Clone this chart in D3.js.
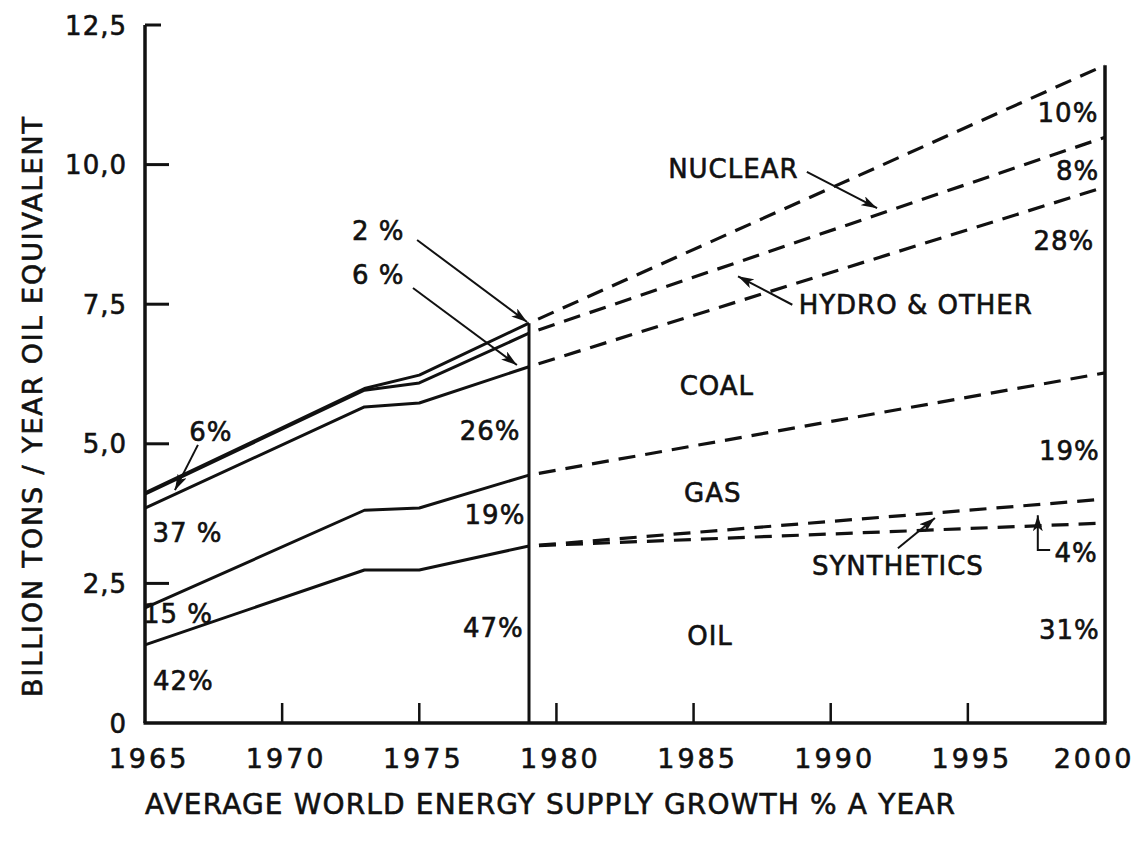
<!DOCTYPE html>
<html>
<head>
<meta charset="utf-8">
<script src="https://cdnjs.cloudflare.com/ajax/libs/d3/7.8.5/d3.min.js"></script>
<style>
  body { margin: 0; background: #fff; }
  text { font-family: "DejaVu Sans", sans-serif; fill: #111; stroke: #111; stroke-width: 0.6; }
</style>
</head>
<body>
<div id="chart"></div>
<script>
// years of the recorded part (solid) and of the projection (dashed)
var histYears = [1965, 1973, 1975, 1979];
var projYears = [1979, 2000];

// cumulative tops of each band, billion tons / year oil equivalent
var oilHist     = [1.40, 2.74, 2.74, 3.17];
var gasHist     = [2.06, 3.81, 3.85, 4.44];
var coalHist    = [3.85, 5.66, 5.73, 6.38];
var hydroHist   = [4.10, 5.96, 6.09, 6.98];
var nuclearHist = [4.12, 5.99, 6.23, 7.16];

var oilProj     = [3.17, 3.58];
var synthProj   = [3.17, 4.01];
var gasProj     = [4.44, 6.27];
var coalProj    = [6.38, 9.60];
var hydroProj   = [6.98, 10.49];
var nuclearProj = [7.16, 11.78];

var yTicks = [0, 2.5, 5, 7.5, 10, 12.5];
var yTickLabels = ["0", "2,5", "5,0", "7,5", "10,0", "12,5"];
var xTicks = [1965, 1970, 1975, 1980, 1985, 1990, 1995, 2000];
var xTickLabels = ["1965", "1970", "1975", "1980", "1985", "1990", "1995", "2000"];

// text labels placed in data units: [text, year, value]
var labels = [
  ["2 %", 1973.5, 8.79],
  ["6 %", 1973.5, 7.99],
  ["NUCLEAR", 1986.45, 9.90],
  ["HYDRO & OTHER", 1993.1, 7.45],
  ["COAL", 1985.85, 6.00],
  ["GAS", 1985.7, 4.10],
  ["OIL", 1985.6, 1.54],
  ["SYNTHETICS", 1992.45, 2.79],
  ["4%", 1998.95, 3.01],
  ["31%", 1998.7, 1.63],
  ["19%", 1998.7, 4.85],
  ["28%", 1998.5, 8.60],
  ["8%", 1999.0, 9.86],
  ["10%", 1998.65, 10.89],
  ["26%", 1977.58, 5.21],
  ["19%", 1977.76, 3.69],
  ["47%", 1977.7, 1.67],
  ["6%", 1967.4, 5.19],
  ["37 %", 1966.55, 3.37],
  ["15 %", 1966.2, 1.92],
  ["42%", 1966.4, 0.73]
];

// arrows: list of [year, value] points, head at the last one
var arrows = [
  [[1974.92, 8.65], [1978.93, 7.18]],
  [[1974.77, 7.79], [1978.56, 6.41]],
  [[1989.13, 9.87], [1991.69, 9.22]],
  [[1988.6, 7.49], [1986.62, 8.00]],
  [[1992.45, 3.13], [1993.8, 3.67]],
  [[1998.0, 3.10], [1997.55, 3.10], [1997.55, 3.72]],
  [[1966.93, 4.98], [1966.09, 4.17]]
];

var svgWidth = 1142;
var svgHeight = 845;

var svg = d3.select("#chart")
  .append("svg")
  .attr("width", svgWidth)
  .attr("height", svgHeight);

svg.append("defs").append("marker")
  .attr("id", "head")
  .attr("markerUnits", "userSpaceOnUse")
  .attr("markerWidth", 18)
  .attr("markerHeight", 10)
  .attr("refX", 16)
  .attr("refY", 5)
  .attr("orient", "auto")
  .append("path")
  .attr("d", "M0,0 L16,5 L0,10 L4,5 Z")
  .attr("fill", "#111");

var x = d3.scaleLinear().domain([1965, 2000]).range([145, 1105]);
var y = d3.scaleLinear().domain([0, 12.5]).range([723, 25]);

var line = d3.line()
  .x(d => x(d[0]))
  .y(d => y(d[1]));

// solid recorded lines
[oilHist, gasHist, coalHist, hydroHist, nuclearHist].forEach(function(vals) {
  svg.append("path")
    .attr("d", line(histYears.map((yr, i) => [yr, vals[i]])))
    .attr("fill", "none")
    .attr("stroke", "#111")
    .attr("stroke-width", 3)
    .attr("stroke-linejoin", "round");
});

// dashed projections
[oilProj, synthProj, gasProj, coalProj, hydroProj, nuclearProj].forEach(function(vals) {
  svg.append("path")
    .attr("d", line(projYears.map((yr, i) => [yr, vals[i]])))
    .attr("fill", "none")
    .attr("stroke", "#111")
    .attr("stroke-width", 3.2)
    .attr("stroke-dasharray", "17,10")
    .attr("stroke-dashoffset", 17);
});

// axes: left, bottom, 1979 divider and 2000 edge
svg.append("line")
  .attr("x1", x(1965)).attr("x2", x(1965))
  .attr("y1", y(0)).attr("y2", y(12.5))
  .attr("stroke", "#111").attr("stroke-width", 3.5);

svg.append("line")
  .attr("x1", x(1965) - 1.5).attr("x2", x(2000) + 1.5)
  .attr("y1", y(0)).attr("y2", y(0))
  .attr("stroke", "#111").attr("stroke-width", 3.5);

svg.append("line")
  .attr("x1", x(1979)).attr("x2", x(1979))
  .attr("y1", y(0)).attr("y2", y(nuclearHist[3]))
  .attr("stroke", "#111").attr("stroke-width", 3);

svg.append("line")
  .attr("x1", x(2000)).attr("x2", x(2000))
  .attr("y1", y(0)).attr("y2", y(nuclearProj[1]))
  .attr("stroke", "#111").attr("stroke-width", 3.5);

// y ticks point inward, labels to the left
yTicks.forEach(function(v, i) {
  if (v > 0) {
    svg.append("line")
      .attr("x1", x(1965)).attr("x2", x(1965) + (v == 12.5 ? 16 : 24))
      .attr("y1", y(v)).attr("y2", y(v))
      .attr("stroke", "#111").attr("stroke-width", 3);
  }
  svg.append("text")
    .attr("x", x(1965) - 18)
    .attr("y", y(v) + 2)
    .attr("text-anchor", "end")
    .attr("dominant-baseline", "middle")
    .attr("font-size", 26)
    .attr("letter-spacing", 1)
    .text(yTickLabels[i]);
});

// x ticks point up
xTicks.forEach(function(v, i) {
  if (v > 1965 && v < 2000) {
    svg.append("line")
      .attr("x1", x(v)).attr("x2", x(v))
      .attr("y1", y(0)).attr("y2", y(0) - 20)
      .attr("stroke", "#111").attr("stroke-width", 2.5);
  }
  svg.append("text")
    .attr("x", Math.min(x(v) + 4, 1094))
    .attr("y", y(0) + 37)
    .attr("text-anchor", "middle")
    .attr("dominant-baseline", "middle")
    .attr("font-size", 27)
    .attr("letter-spacing", 3)
    .text(xTickLabels[i]);
});

// axis titles
svg.append("text")
  .attr("x", 145)
  .attr("y", 806)
  .attr("dominant-baseline", "middle")
  .attr("font-size", 28)
  .attr("textLength", 810)
  .attr("lengthAdjust", "spacing")
  .text("AVERAGE WORLD ENERGY SUPPLY GROWTH % A YEAR");

svg.append("text")
  .attr("transform", "translate(34, 407) rotate(-90)")
  .attr("text-anchor", "middle")
  .attr("dominant-baseline", "middle")
  .attr("font-size", 27)
  .attr("textLength", 580)
  .attr("lengthAdjust", "spacing")
  .text("BILLION TONS / YEAR OIL EQUIVALENT");

// band labels and percentages
labels.forEach(function(d) {
  svg.append("text")
    .attr("x", x(d[1]))
    .attr("y", y(d[2]))
    .attr("text-anchor", "middle")
    .attr("dominant-baseline", "middle")
    .attr("font-size", 26)
    .attr("letter-spacing", 1)
    .text(d[0]);
});

// arrows
arrows.forEach(function(pts) {
  svg.append("path")
    .attr("d", line(pts))
    .attr("fill", "none")
    .attr("stroke", "#111")
    .attr("stroke-width", 2)
    .attr("marker-end", "url(#head)");
});
</script>
</body>
</html>
